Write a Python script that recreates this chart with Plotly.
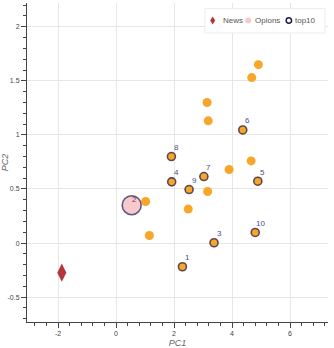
import plotly.graph_objects as go

# Data
news_x = [-1.87]
news_y = [-0.274]

opinion_x = [0.54]
opinion_y = [0.35]

other_x = [4.91, 4.68, 3.14, 3.18, 4.66, 3.90, 3.16, 1.02, 2.49, 1.15]
other_y = [1.65, 1.53, 1.30, 1.13, 0.76, 0.68, 0.477, 0.384, 0.314, 0.07]

top_labels = ["1", "2", "3", "4", "5", "6", "7", "8", "9", "10"]
top_x = [2.29, 0.54, 3.38, 1.92, 4.89, 4.37, 3.03, 1.91, 2.52, 4.80]
top_y = [-0.219, 0.35, 0.003, 0.566, 0.572, 1.046, 0.615, 0.80, 0.495, 0.098]

legend_names = ["News", "Opions", "top10"]

xticks = [-2, 0, 2, 4, 6]
yticks = [-0.5, 0, 0.5, 1, 1.5, 2]

FONT = "Liberation Sans"
ORANGE = "#F7A62A"
NAVY = "#1c1c5a"
RED = "#B2363B"
PINK = "#F6C9CF"

fig = go.Figure()

fill_x = other_x + [x for x, l in zip(top_x, top_labels) if l != "2"]
fill_y = other_y + [y for y, l in zip(top_y, top_labels) if l != "2"]
fig.add_trace(go.Scatter(x=fill_x, y=fill_y, mode="markers", showlegend=False,
                         marker=dict(color=ORANGE, size=9, line=dict(width=0)),
                         hoverinfo="skip"))

fig.add_trace(go.Scatter(x=news_x, y=news_y, mode="markers", name=legend_names[0],
                         showlegend=False,
                         marker=dict(symbol="diamond-tall", color=RED, size=13,
                                     line=dict(width=0))))

fig.add_trace(go.Scatter(x=opinion_x, y=opinion_y, mode="markers", name=legend_names[1],
                         showlegend=False,
                         marker=dict(color=PINK, size=19, line=dict(width=0))))

sizes = [19 if l == "2" else 8 for l in top_labels]
fig.add_trace(go.Scatter(x=top_x, y=top_y, mode="markers", name=legend_names[2],
                         showlegend=False,
                         marker=dict(color="rgba(0,0,0,0)", size=sizes,
                                     line=dict(color=NAVY, width=1.6))))

for x, y, l in zip(top_x, top_y, top_labels):
    fig.add_annotation(x=x, y=y, text=l, showarrow=False, xshift=5 if l != "2" else 3,
                       yshift=9 if l != "2" else 6,
                       font=dict(family=FONT, size=8,
                                 color="#8a3a55" if l == "2" else "#4d4d8f"))

# Legend (drawn as a box with icons and labels in paper coordinates)
LY = 0.945
fig.add_shape(type="rect", xref="paper", yref="paper", x0=0.591, x1=0.990, y0=0.906, y1=0.983,
              fillcolor="white", line=dict(color="#ececec", width=1), layer="above")
fig.add_shape(type="path", xref="paper", yref="paper", xsizemode="pixel", ysizemode="pixel",
              xanchor=0.617, yanchor=LY, path="M0,4 L2.5,0 L0,-4 L-2.5,0 Z",
              fillcolor=RED, line=dict(width=0), layer="above")
fig.add_shape(type="circle", xref="paper", yref="paper", xsizemode="pixel", ysizemode="pixel",
              xanchor=0.735, yanchor=LY, x0=-3, x1=3, y0=-3, y1=3,
              fillcolor=PINK, line=dict(width=0), layer="above")
fig.add_shape(type="circle", xref="paper", yref="paper", xsizemode="pixel", ysizemode="pixel",
              xanchor=0.870, yanchor=LY, x0=-2.7, x1=2.7, y0=-2.7, y1=2.7,
              fillcolor="white", line=dict(color=NAVY, width=1.5), layer="above")
for name, lx in zip(legend_names, [0.643, 0.752, 0.885]):
    fig.add_annotation(xref="paper", yref="paper", x=lx, y=LY, text=name, showarrow=False,
                       xanchor="left", yanchor="middle",
                       font=dict(family=FONT, size=8, color="#555"))

axis_common = dict(
    showline=True, linecolor="#444", linewidth=1, mirror=False, automargin=False,
    showgrid=True, gridcolor="#e6e6e6", gridwidth=1, zeroline=False,
    ticks="outside", ticklen=5, tickcolor="#444", tickwidth=1,
    tickfont=dict(family=FONT, size=7, color="#444"),
)

fig.update_xaxes(**axis_common, range=[-3.07, 7.31], tickvals=xticks,
                 ticktext=[str(t) for t in xticks],
                 minor=dict(dtick=0.4, tick0=0, ticks="outside", ticklen=3,
                            tickcolor="#444", showgrid=False),
                 title=dict(text="PC1", standoff=6,
                            font=dict(family=FONT, size=9, color="#666", style="italic")))
fig.update_yaxes(**axis_common, range=[-0.73, 2.22], tickvals=yticks,
                 ticktext=["-0.5", "0", "0.5", "1", "1.5", "2"],
                 minor=dict(dtick=0.1, tick0=0, ticks="outside", ticklen=3,
                            tickcolor="#444", showgrid=False),
                 title=dict(text="PC2", standoff=4,
                            font=dict(family=FONT, size=9, color="#666", style="italic")))

fig.update_layout(
    width=334, height=348,
    margin=dict(l=27, r=6, t=3, b=26),
    plot_bgcolor="white", paper_bgcolor="white",
    font=dict(family=FONT, size=9, color="#666"),
    showlegend=False,
)

fig.write_html("out.html")
